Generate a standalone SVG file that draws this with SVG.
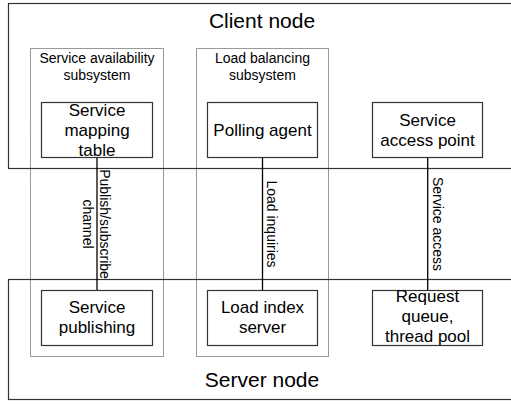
<svg xmlns="http://www.w3.org/2000/svg" width="511" height="406" viewBox="0 0 511 406">
<style>
.bg{fill:#fff}
.host{fill:none;stroke:#333;stroke-width:1.2}
.sub{fill:none;stroke:#333;stroke-width:1;stroke-dasharray:1 1}
.box{fill:#fff;stroke:#333;stroke-width:1.2}
.conn{stroke:#000;stroke-width:1.3;fill:none}
text{font-family:"Liberation Sans",Arial,sans-serif;fill:#000;text-anchor:middle}
.t{font-size:21px}
.s{font-size:14px}
.b{font-size:17px}
.c{font-size:14px}
</style>
<rect class="bg" x="0" y="0" width="511" height="406"/>
<g id="client-node">
<rect class="host" x="8.5" y="3.5" width="520" height="165"/>
<text class="t" x="262" y="28">Client node</text>
</g>
<g id="server-node">
<rect class="host" x="8.5" y="279.5" width="520" height="120"/>
<text class="t" x="262" y="387">Server node</text>
</g>
<g id="service-availability-subsystem">
<rect class="sub" x="30.5" y="48.5" width="133" height="308"/>
<text class="s" x="97" y="63">Service availability</text>
<text class="s" x="97" y="80">subsystem</text>
</g>
<g id="load-balancing-subsystem">
<rect class="sub" x="196.5" y="48.5" width="132" height="308"/>
<text class="s" x="262.5" y="63">Load balancing</text>
<text class="s" x="262.5" y="80">subsystem</text>
</g>
<g id="connectors">
<line class="conn" x1="97" y1="157" x2="97" y2="290"/>
<line class="conn" x1="262.5" y1="157" x2="262.5" y2="290"/>
<line class="conn" x1="427.7" y1="157" x2="427.7" y2="290"/>
<text class="c" transform="translate(99.5,224) rotate(90)" x="0" y="0">Publish/subscribe</text>
<text class="c" transform="translate(99.5,224) rotate(90)" x="0" y="17">channel</text>
<text class="c" transform="translate(267,224) rotate(90)" x="0" y="0">Load inquiries</text>
<text class="c" transform="translate(432.5,224) rotate(90)" x="0" y="0">Service access</text>
</g>
<g id="service-mapping-table">
<rect class="box" x="41.5" y="102.5" width="111" height="55"/>
<text class="b" x="97" y="116">Service</text>
<text class="b" x="97" y="136">mapping</text>
<text class="b" x="97" y="156">table</text>
</g>
<g id="polling-agent">
<rect class="box" x="207.5" y="102.5" width="110" height="55"/>
<text class="b" x="262.5" y="136">Polling agent</text>
</g>
<g id="service-access-point">
<rect class="box" x="372.5" y="102.5" width="110" height="55"/>
<text class="b" x="427.5" y="126">Service</text>
<text class="b" x="427.5" y="146">access point</text>
</g>
<g id="service-publishing">
<rect class="box" x="41.5" y="290.5" width="111" height="55"/>
<text class="b" x="97" y="313">Service</text>
<text class="b" x="97" y="333">publishing</text>
</g>
<g id="load-index-server">
<rect class="box" x="207.5" y="290.5" width="110" height="55"/>
<text class="b" x="262.5" y="313">Load index</text>
<text class="b" x="262.5" y="333">server</text>
</g>
<g id="request-queue">
<rect class="box" x="372.5" y="290.5" width="110" height="55"/>
<text class="b" x="427.5" y="302">Request</text>
<text class="b" x="427.5" y="322">queue,</text>
<text class="b" x="427.5" y="342">thread pool</text>
</g>
</svg>
